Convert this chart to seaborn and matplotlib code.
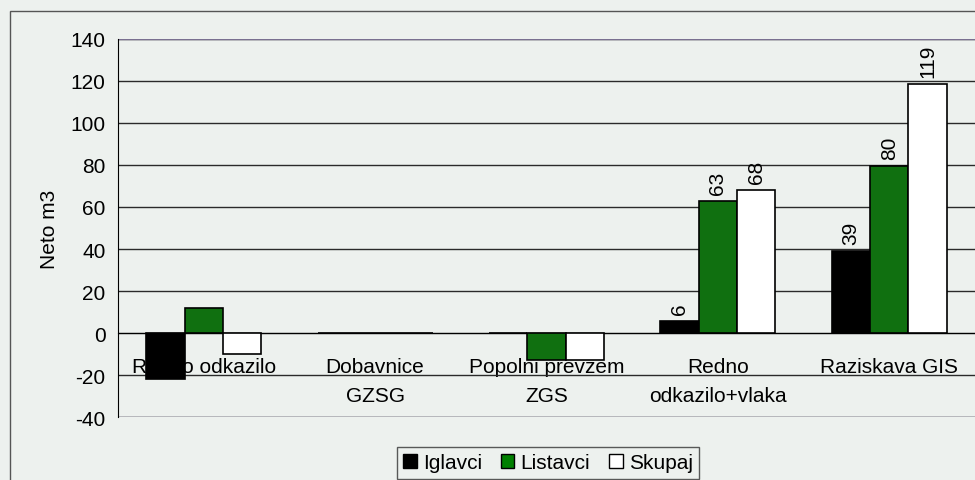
import matplotlib
matplotlib.use("Agg")
import matplotlib.pyplot as plt
import matplotlib.patches as mpatches
import pandas as pd
import seaborn as sns

categories = [
    "Redno odkazilo",
    "Dobavnice\nGZSG",
    "Popolni prevzem\nZGS",
    "Redno\nodkazilo+vlaka",
    "Raziskava GIS",
]
series = ["Iglavci", "Listavci", "Skupaj"]
iglavci = [-22, 0, 0, 5.6, 39]
listavci = [12, 0, -13, 62.7, 79.6]
skupaj = [-10, 0, -13, 68.3, 118.6]
labeled = ["Redno\nodkazilo+vlaka", "Raziskava GIS"]
colors = ["#000000", "#008000", "#FFFFFF"]
y_ticks = [-40, -20, 0, 20, 40, 60, 80, 100, 120, 140]

bg = "#EDF1EE"
fs = 15

df = pd.DataFrame({
    "kategorija": categories * 3,
    "vrsta": [s for s in series for _ in categories],
    "vrednost": iglavci + listavci + skupaj,
})

sns.set_style("white")
plt.rcParams["font.family"] = ["Liberation Sans", "DejaVu Sans"]
plt.rcParams["axes.unicode_minus"] = False
plt.rcParams["text.color"] = "black"
plt.rcParams["axes.labelcolor"] = "black"
plt.rcParams["xtick.color"] = "black"
plt.rcParams["ytick.color"] = "black"

fig = plt.figure(figsize=(9.75, 4.81), dpi=100, facecolor=bg)
ax = fig.add_axes([118 / 975, 1 - 418 / 481, 1 - 118 / 975, (418 - 40) / 481])
ax.set_facecolor("none")

# outer chart border (partly off-canvas, like the scan)
fig.patches.append(mpatches.Rectangle(
    (10 / 975, -0.05), 1.0, 1 - 12 / 481 + 0.05, transform=fig.transFigure,
    fill=False, edgecolor="#555555", linewidth=1.0, zorder=0))

sns.barplot(
    data=df, x="kategorija", y="vrednost", hue="vrsta",
    order=categories, hue_order=series, palette=colors,
    edgecolor="black", linewidth=1.2, width=0.67,
    errorbar=None, legend=False, ax=ax,
)
for cont in ax.containers:
    for bar in cont:
        bar.set_zorder(3)

# data labels only on the last two groups
for cont, vals in zip(ax.containers, [iglavci, listavci, skupaj]):
    labels = [f"{v:.0f}" if c in labeled else "" for c, v in zip(categories, vals)]
    ax.bar_label(cont, labels=labels, rotation=90, padding=5, fontsize=fs, zorder=4)

ax.set_xlim(-0.5, len(categories) - 0.5)
ax.set_ylim(-40, 140)
ax.set_yticks(y_ticks)
ax.grid(axis="y", color="#2a2a2a", linewidth=1.0)
ax.grid(axis="x", visible=False)
ax.xaxis.set_zorder(0.5)
ax.yaxis.set_zorder(0.5)
for lim in (140, -40):
    ax.axhline(lim, color="#7a7090", linewidth=1.0, zorder=0.6)

for side in ("top", "right"):
    ax.spines[side].set_visible(False)
ax.spines["left"].set_color("black")
ax.spines["bottom"].set_color("black")
ax.spines["bottom"].set_position(("data", 0))
ax.spines["bottom"].set_zorder(0.8)

ax.set_xticks(range(len(categories)))
ax.set_xticklabels(categories, fontsize=fs, linespacing=1.7)
ax.set_xticks([i + 0.5 for i in range(len(categories))], minor=True)
ax.tick_params(axis="x", which="major", length=0, pad=17, colors="black")
ax.tick_params(axis="x", which="minor", length=6, direction="out", color="black")
ax.tick_params(axis="y", length=5, direction="out", labelsize=fs, color="black", pad=4)

ax.set_xlabel("")
ax.set_ylabel("Neto m3", fontsize=fs, labelpad=8)

handles = [mpatches.Patch(facecolor=c, edgecolor="black", linewidth=1.0, label=s)
           for s, c in zip(series, colors)]
fig.legend(handles=handles, loc="upper center", bbox_to_anchor=(548 / 975, 1 - 448 / 481),
           ncol=3, fontsize=fs, frameon=True, fancybox=False, edgecolor="#333333",
           facecolor=bg, handlelength=0.65, handleheight=0.65, handletextpad=0.3,
           columnspacing=0.9, borderpad=0.3, borderaxespad=0)

fig.savefig("out.png", dpi=100, facecolor=bg)
